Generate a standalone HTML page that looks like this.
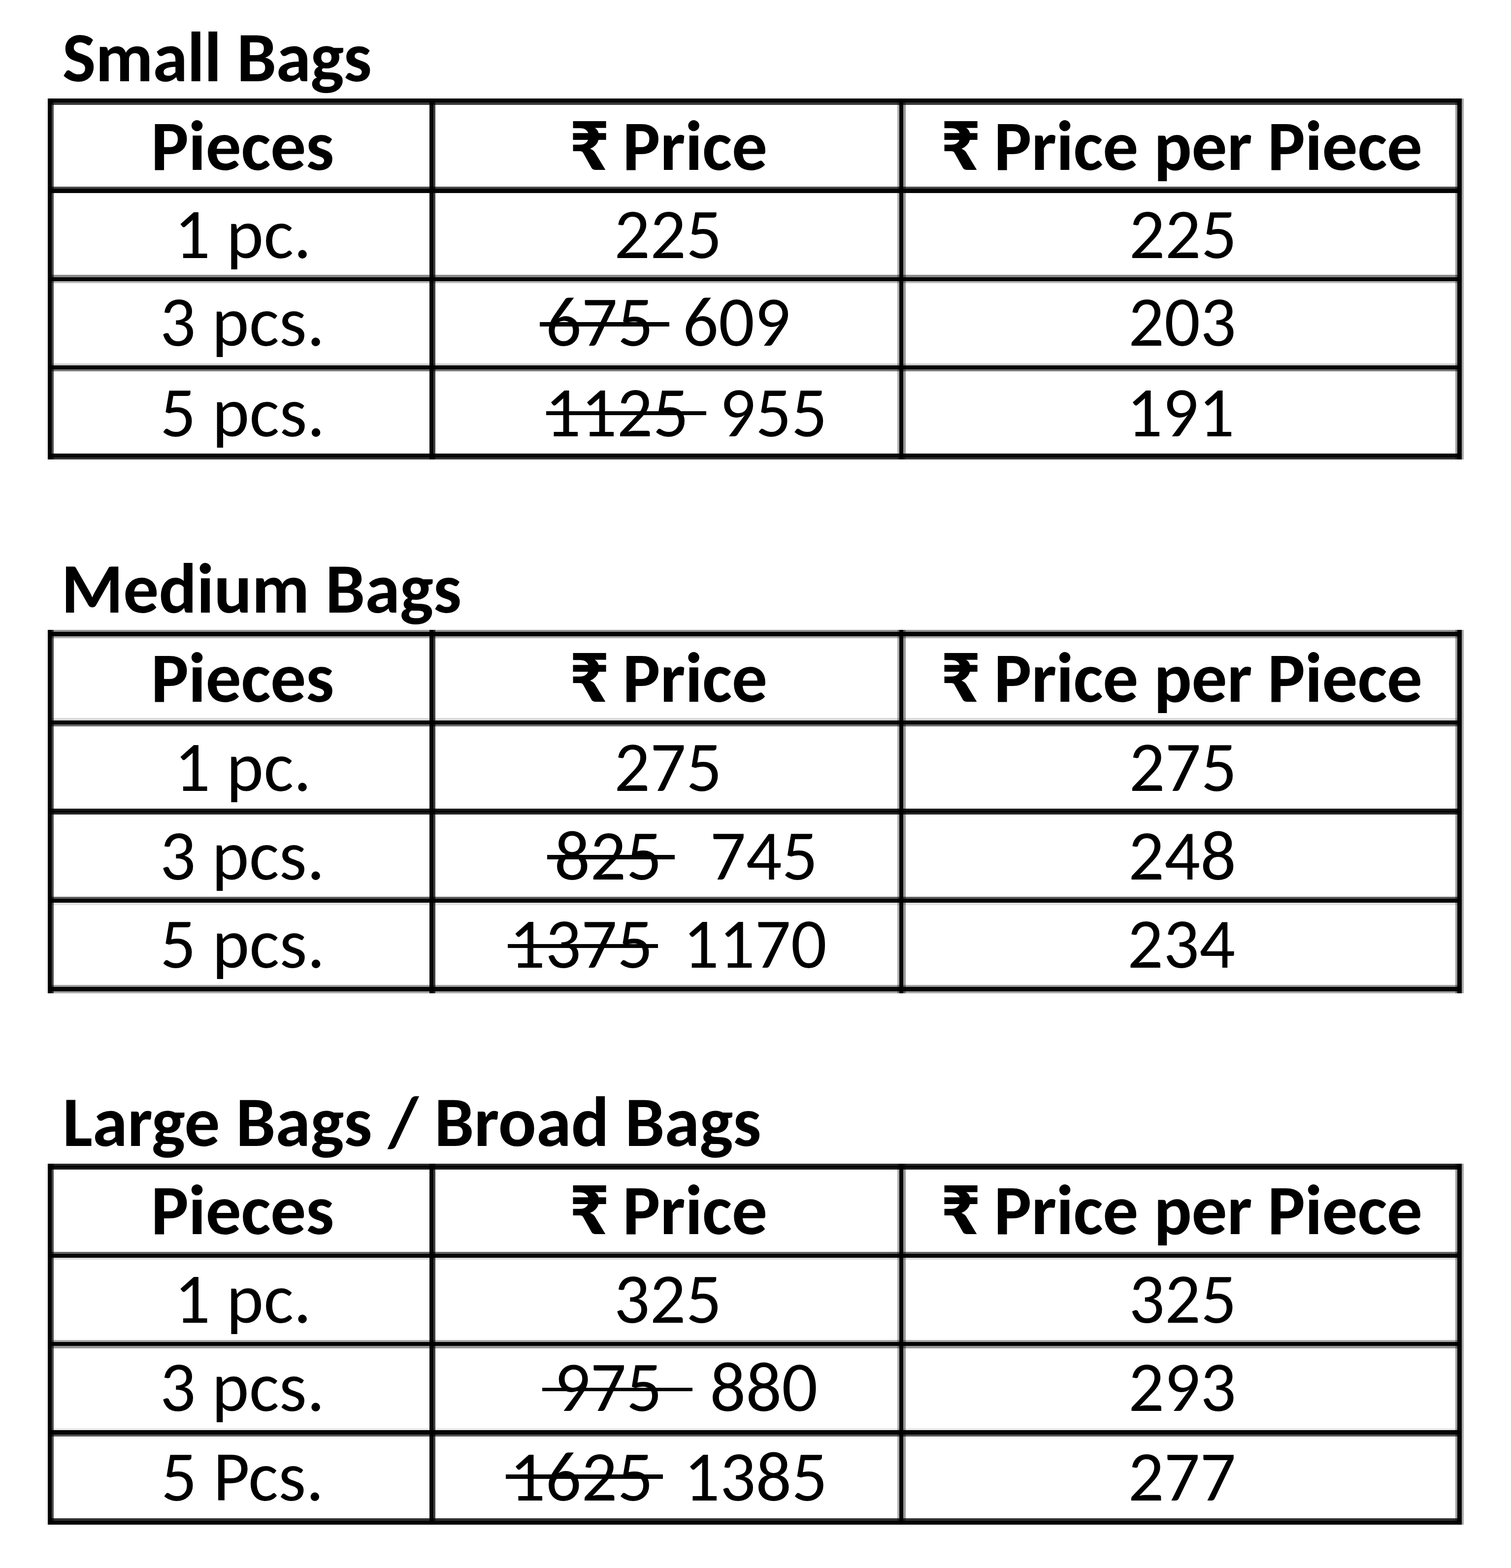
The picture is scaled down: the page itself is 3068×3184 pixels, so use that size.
<!DOCTYPE html><html><head><meta charset="utf-8"><title>Bag prices</title><style>
html,body{margin:0;padding:0;background:#fff}
body{width:3068px;height:3184px;position:relative;overflow:hidden}
.l{position:absolute;mix-blend-mode:multiply}
.t{position:absolute;font-family:'Carlito', 'Liberation Sans', sans-serif;font-size:144px;line-height:200px;white-space:nowrap;color:#000;height:200px}
.b{font-weight:bold}.i{font-style:italic}
h2{margin:0;font-size:144px}s{text-decoration:none}
</style></head><body>
<div class="l" style="left:93px;top:200px;width:3px;height:733px;background:#efefef"></div>
<div class="l" style="left:97px;top:200px;width:8px;height:733px;background:#030303"></div>
<div class="l" style="left:105px;top:200px;width:4px;height:733px;background:#4a4a4a"></div>
<div class="l" style="left:872px;top:200px;width:8px;height:733px;background:#070707"></div>
<div class="l" style="left:880px;top:200px;width:4px;height:733px;background:#404040"></div>
<div class="l" style="left:1822px;top:200px;width:4px;height:733px;background:#b0b0b0"></div>
<div class="l" style="left:1826px;top:200px;width:8px;height:733px;background:#050505"></div>
<div class="l" style="left:1834px;top:200px;width:5px;height:733px;background:#999999"></div>
<div class="l" style="left:2955px;top:200px;width:4px;height:733px;background:#a0a0a0"></div>
<div class="l" style="left:2959px;top:200px;width:9px;height:733px;background:#050505"></div>
<div class="l" style="left:2968px;top:200px;width:4px;height:733px;background:#a8a8a8"></div>
<div class="l" style="left:93px;top:1279px;width:3px;height:738px;background:#efefef"></div>
<div class="l" style="left:97px;top:1279px;width:8px;height:738px;background:#030303"></div>
<div class="l" style="left:105px;top:1279px;width:4px;height:738px;background:#4a4a4a"></div>
<div class="l" style="left:872px;top:1279px;width:8px;height:738px;background:#070707"></div>
<div class="l" style="left:880px;top:1279px;width:4px;height:738px;background:#404040"></div>
<div class="l" style="left:1822px;top:1279px;width:4px;height:738px;background:#b0b0b0"></div>
<div class="l" style="left:1826px;top:1279px;width:8px;height:738px;background:#050505"></div>
<div class="l" style="left:1834px;top:1279px;width:5px;height:738px;background:#999999"></div>
<div class="l" style="left:2955px;top:1279px;width:4px;height:738px;background:#a0a0a0"></div>
<div class="l" style="left:2959px;top:1279px;width:9px;height:738px;background:#050505"></div>
<div class="l" style="left:2968px;top:1279px;width:4px;height:738px;background:#a8a8a8"></div>
<div class="l" style="left:93px;top:2363px;width:3px;height:733px;background:#efefef"></div>
<div class="l" style="left:97px;top:2363px;width:8px;height:733px;background:#030303"></div>
<div class="l" style="left:105px;top:2363px;width:4px;height:733px;background:#4a4a4a"></div>
<div class="l" style="left:872px;top:2363px;width:8px;height:733px;background:#070707"></div>
<div class="l" style="left:880px;top:2363px;width:4px;height:733px;background:#404040"></div>
<div class="l" style="left:1822px;top:2363px;width:4px;height:733px;background:#b0b0b0"></div>
<div class="l" style="left:1826px;top:2363px;width:8px;height:733px;background:#050505"></div>
<div class="l" style="left:1834px;top:2363px;width:5px;height:733px;background:#999999"></div>
<div class="l" style="left:2955px;top:2363px;width:4px;height:733px;background:#a0a0a0"></div>
<div class="l" style="left:2959px;top:2363px;width:9px;height:733px;background:#050505"></div>
<div class="l" style="left:2968px;top:2363px;width:4px;height:733px;background:#a8a8a8"></div>
<div class="l" style="left:97px;top:200px;width:2871px;height:8px;background:#050505"></div>
<div class="l" style="left:97px;top:208px;width:2871px;height:5px;background:#3a3a3a"></div>
<div class="l" style="left:97px;top:379px;width:2871px;height:4px;background:#4a4a4a"></div>
<div class="l" style="left:97px;top:383px;width:2871px;height:9px;background:#050505"></div>
<div class="l" style="left:97px;top:558px;width:2871px;height:5px;background:#8a8a8a"></div>
<div class="l" style="left:97px;top:563px;width:2871px;height:8px;background:#050505"></div>
<div class="l" style="left:97px;top:571px;width:2871px;height:4px;background:#bbbbbb"></div>
<div class="l" style="left:97px;top:738px;width:2871px;height:4px;background:#cfcfcf"></div>
<div class="l" style="left:97px;top:742px;width:2871px;height:8px;background:#050505"></div>
<div class="l" style="left:97px;top:750px;width:2871px;height:4px;background:#777777"></div>
<div class="l" style="left:97px;top:921px;width:2871px;height:8px;background:#080808"></div>
<div class="l" style="left:97px;top:929px;width:2871px;height:4px;background:#333333"></div>
<div class="l" style="left:97px;top:1279px;width:2871px;height:4px;background:#959595"></div>
<div class="l" style="left:97px;top:1283px;width:2871px;height:9px;background:#050505"></div>
<div class="l" style="left:97px;top:1292px;width:2871px;height:4px;background:#b0b0b0"></div>
<div class="l" style="left:97px;top:1458px;width:2871px;height:5px;background:#d8d8d8"></div>
<div class="l" style="left:97px;top:1463px;width:2871px;height:8px;background:#050505"></div>
<div class="l" style="left:97px;top:1471px;width:2871px;height:4px;background:#6a6a6a"></div>
<div class="l" style="left:97px;top:1642px;width:2871px;height:4px;background:#1b1b1b"></div>
<div class="l" style="left:97px;top:1646px;width:2871px;height:4px;background:#030303"></div>
<div class="l" style="left:97px;top:1650px;width:2871px;height:4px;background:#272727"></div>
<div class="l" style="left:97px;top:1821px;width:2871px;height:4px;background:#5e5e5e"></div>
<div class="l" style="left:97px;top:1825px;width:2871px;height:8px;background:#050505"></div>
<div class="l" style="left:97px;top:1833px;width:2871px;height:5px;background:#e2e2e2"></div>
<div class="l" style="left:97px;top:2000px;width:2871px;height:4px;background:#a0a0a0"></div>
<div class="l" style="left:97px;top:2004px;width:2871px;height:9px;background:#050505"></div>
<div class="l" style="left:97px;top:2013px;width:2871px;height:4px;background:#a5a5a5"></div>
<div class="l" style="left:97px;top:2363px;width:2871px;height:4px;background:#262626"></div>
<div class="l" style="left:97px;top:2367px;width:2871px;height:4px;background:#020202"></div>
<div class="l" style="left:97px;top:2371px;width:2871px;height:4px;background:#1c1c1c"></div>
<div class="l" style="left:97px;top:2542px;width:2871px;height:4px;background:#666666"></div>
<div class="l" style="left:97px;top:2546px;width:2871px;height:8px;background:#050505"></div>
<div class="l" style="left:97px;top:2554px;width:2871px;height:4px;background:#dddddd"></div>
<div class="l" style="left:97px;top:2721px;width:2871px;height:4px;background:#aaaaaa"></div>
<div class="l" style="left:97px;top:2725px;width:2871px;height:8px;background:#050505"></div>
<div class="l" style="left:97px;top:2733px;width:2871px;height:5px;background:#999999"></div>
<div class="l" style="left:97px;top:2900px;width:2871px;height:4px;background:#ebebeb"></div>
<div class="l" style="left:97px;top:2904px;width:2871px;height:9px;background:#050505"></div>
<div class="l" style="left:97px;top:2913px;width:2871px;height:4px;background:#555555"></div>
<div class="l" style="left:97px;top:3083px;width:2871px;height:5px;background:#313131"></div>
<div class="l" style="left:97px;top:3088px;width:2871px;height:8px;background:#050505"></div>
<div class="l" style="left:1096.3px;top:654.1px;width:262.4px;height:8.9px;background:#050505"></div>
<div class="l" style="left:1108.8px;top:835.2px;width:325.2px;height:7.8px;background:#050505"></div>
<div class="l" style="left:1110.5px;top:1736.2px;width:259.5px;height:8.5px;background:#050505"></div>
<div class="l" style="left:1031.3px;top:1916.7px;width:305.0px;height:7.9px;background:#050505"></div>
<div class="l" style="left:1101.0px;top:2817.9px;width:304.9px;height:7.5px;background:#050505"></div>
<div class="l" style="left:1027.4px;top:2994.3px;width:318.6px;height:8.8px;background:#050505"></div>
<h2 class="t b" style="left:126.6px;top:16.0px;letter-spacing:-0.96px;">Small Bags</h2>
<h2 class="t b" style="left:124.3px;top:1095.0px;letter-spacing:-0.26px;">Medium Bags</h2>
<h2 class="t b" style="left:127.0px;top:2178.0px;letter-spacing:-0.23px;">Large Bags / Broad Bags</h2>
<div class="t b" style="left:306.5px;top:195.6px;letter-spacing:-0.56px;">Pieces</div>
<div class="t b" style="left:1155.0px;top:195.6px;transform:scale(1.200,1.060);transform-origin:9px 150px;">₹</div>
<div class="t b" style="left:1264.0px;top:195.6px;letter-spacing:-0.45px;">Price</div>
<div class="t b" style="left:1909.0px;top:195.6px;transform:scale(1.200,1.060);transform-origin:9px 150px;">₹</div>
<div class="t b" style="left:2018.0px;top:195.6px;letter-spacing:-0.64px;">Price per Piece</div>
<div class="t b" style="left:306.5px;top:1276.0px;letter-spacing:-0.56px;">Pieces</div>
<div class="t b" style="left:1155.0px;top:1276.0px;transform:scale(1.200,1.060);transform-origin:9px 150px;">₹</div>
<div class="t b" style="left:1264.0px;top:1276.0px;letter-spacing:-0.45px;">Price</div>
<div class="t b" style="left:1909.0px;top:1276.0px;transform:scale(1.200,1.060);transform-origin:9px 150px;">₹</div>
<div class="t b" style="left:2018.0px;top:1276.0px;letter-spacing:-0.64px;">Price per Piece</div>
<div class="t b" style="left:306.5px;top:2357.0px;letter-spacing:-0.56px;">Pieces</div>
<div class="t b" style="left:1155.0px;top:2357.0px;transform:scale(1.200,1.060);transform-origin:9px 150px;">₹</div>
<div class="t b" style="left:1264.0px;top:2357.0px;letter-spacing:-0.45px;">Price</div>
<div class="t b" style="left:1909.0px;top:2357.0px;transform:scale(1.200,1.060);transform-origin:9px 150px;">₹</div>
<div class="t b" style="left:2018.0px;top:2357.0px;letter-spacing:-0.64px;">Price per Piece</div>
<div class="t" style="left:354.0px;top:374.5px;">1 pc.</div>
<div class="t" style="left:1247.0px;top:374.5px;">225</div>
<div class="t" style="left:2292.5px;top:374.5px;">225</div>
<div class="t" style="left:324.5px;top:553.0px;">3 pcs.</div>
<s class="t" style="left:1107.8px;top:553.0px;">675</s>
<div class="t" style="left:1386.0px;top:553.0px;">609</div>
<div class="t" style="left:2291.0px;top:553.0px;">203</div>
<div class="t" style="left:325.1px;top:737.0px;">5 pcs.</div>
<s class="t" style="left:1106.5px;top:737.0px;">1125</s>
<div class="t" style="left:1460.9px;top:737.0px;">955</div>
<div class="t" style="left:2287.5px;top:737.0px;">191</div>
<div class="t" style="left:354.0px;top:1457.0px;">1 pc.</div>
<div class="t" style="left:1247.0px;top:1457.0px;">275</div>
<div class="t" style="left:2292.5px;top:1457.0px;">275</div>
<div class="t" style="left:324.5px;top:1637.0px;">3 pcs.</div>
<s class="t" style="left:1125.3px;top:1637.0px;">825</s>
<div class="t" style="left:1441.5px;top:1637.0px;">745</div>
<div class="t" style="left:2291.0px;top:1637.0px;">248</div>
<div class="t" style="left:325.1px;top:1815.9px;">5 pcs.</div>
<s class="t" style="left:1034.1px;top:1815.9px;">1375</s>
<div class="t" style="left:1386.8px;top:1815.9px;">1170</div>
<div class="t" style="left:2289.0px;top:1815.9px;">234</div>
<div class="t" style="left:354.0px;top:2537.0px;">1 pc.</div>
<div class="t" style="left:1246.5px;top:2537.0px;">325</div>
<div class="t" style="left:2292.0px;top:2537.0px;">325</div>
<div class="t" style="left:324.5px;top:2716.0px;">3 pcs.</div>
<s class="t" style="left:1125.5px;top:2716.0px;">975</s>
<div class="t" style="left:1441.2px;top:2716.0px;">880</div>
<div class="t" style="left:2291.0px;top:2716.0px;">293</div>
<div class="t" style="left:327.1px;top:2898.0px;">5 Pcs.</div>
<s class="t" style="left:1034.5px;top:2898.0px;">1625</s>
<div class="t" style="left:1388.4px;top:2898.0px;">1385</div>
<div class="t" style="left:2290.5px;top:2898.0px;">277</div>
</body></html>
